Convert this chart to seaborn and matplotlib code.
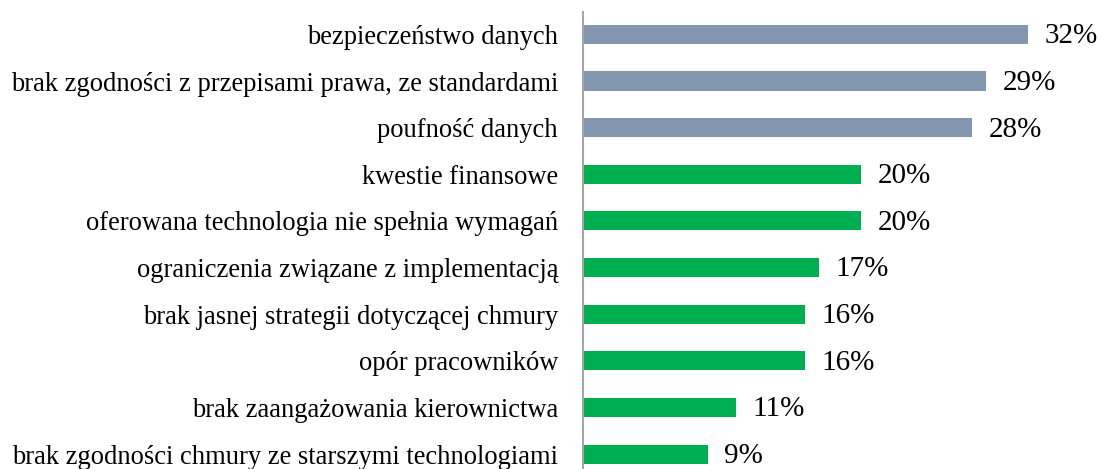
import matplotlib
matplotlib.use("Agg")
import matplotlib.pyplot as plt
import pandas as pd
import seaborn as sns

# data
categories = [
    "bezpieczeństwo danych",
    "brak zgodności z przepisami prawa, ze standardami",
    "poufność danych",
    "kwestie finansowe",
    "oferowana technologia nie spełnia wymagań",
    "ograniczenia związane z implementacją",
    "brak jasnej strategii dotyczącej chmury",
    "opór pracowników",
    "brak zaangażowania kierownictwa",
    "brak zgodności chmury ze starszymi technologiami",
]
values = [32, 29, 28, 20, 20, 17, 16, 16, 11, 9]
groups = ["top", "top", "top", "rest", "rest", "rest", "rest", "rest", "rest", "rest"]

df = pd.DataFrame({"category": categories, "value": values, "group": groups})

sns.set_style("white")
plt.rcParams["font.family"] = ["Liberation Serif", "DejaVu Serif"]

fig = plt.figure(figsize=(11, 4.69), dpi=100)
ax = fig.add_axes([582.5 / 1100, 0, 1 - 582.5 / 1100, 1 - 12 / 469])

sns.barplot(data=df, x="value", y="category", hue="group",
            palette={"top": "#8497B0", "rest": "#00B050"},
            saturation=1, linewidth=0,
            width=0.41, dodge=False, legend=False, ax=ax)

for i, v in enumerate(values):
    ax.text(v + 1.2, i + 0.04, f"{v}%", va="center", ha="left", fontsize=21, color="black")

ax.set_xlim(0, 37.2)
ax.set_ylim(9.32, -0.48)
ax.set_xlabel("")
ax.set_ylabel("")
ax.set_xticks([])
ax.tick_params(axis="y", length=0, pad=17.6, labelsize=19.1, labelcolor="black")
for side in ["top", "right", "bottom"]:
    ax.spines[side].set_visible(False)
ax.spines["left"].set_color("#A6A6A6")
ax.spines["left"].set_linewidth(1.5)

fig.savefig("out.png", dpi=100)
